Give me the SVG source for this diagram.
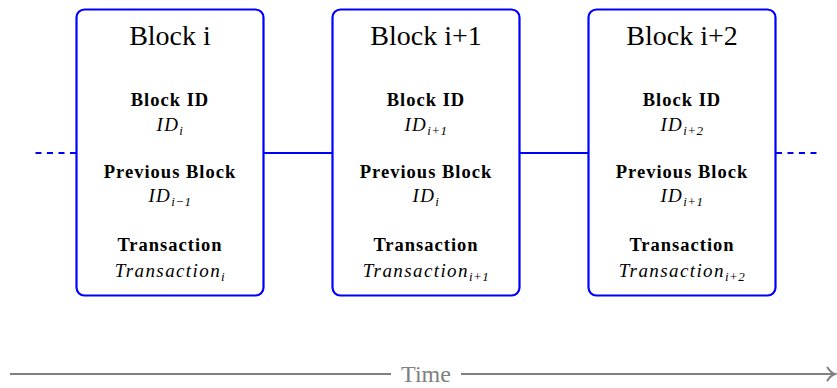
<svg xmlns="http://www.w3.org/2000/svg" width="837" height="388" viewBox="0 0 837 388">
<style>
.box{fill:#fff;stroke:#0000ff;stroke-width:2.2}
.t{font-family:'Liberation Serif','Times New Roman','DejaVu Serif',serif;fill:#000;text-anchor:middle}
.title{font-size:28px}
.lab{font-size:18.5px;font-weight:bold;letter-spacing:1px}
.m{font-size:19px;font-style:italic;letter-spacing:1.4px}
.sub{font-size:13px;letter-spacing:0.5px}
.conn{stroke:#0000ff;stroke-width:2.2;fill:none}
.dash{stroke-dasharray:6 5.5}
.time{stroke:#808080;stroke-width:2;fill:none}
</style>
<g id="connectors">
<line class="conn dash" x1="76" y1="153" x2="30" y2="153"/>
<line class="conn" x1="263.5" y1="153" x2="332.5" y2="153"/>
<line class="conn" x1="519.5" y1="153" x2="588.5" y2="153"/>
<line class="conn dash" x1="776" y1="153" x2="822" y2="153"/>
</g>
<g id="block-i">
<rect class="box" x="76.5" y="9.5" width="187" height="286" rx="8"/>
<text class="t title" x="170" y="45">Block i</text>
<text class="t lab" x="170" y="106">Block ID</text>
<text class="t m" x="170" y="131">ID<tspan class="sub" dy="4">i</tspan></text>
<text class="t lab" x="170" y="178">Previous Block</text>
<text class="t m" x="170" y="202">ID<tspan class="sub" dy="4">i−1</tspan></text>
<text class="t lab" x="170" y="251">Transaction</text>
<text class="t m" x="170" y="277">Transaction<tspan class="sub" dy="4">i</tspan></text>
</g>
<g id="block-i1">
<rect class="box" x="332.5" y="9.5" width="187" height="286" rx="8"/>
<text class="t title" x="426" y="45">Block i+1</text>
<text class="t lab" x="426" y="106">Block ID</text>
<text class="t m" x="426" y="131">ID<tspan class="sub" dy="4">i+1</tspan></text>
<text class="t lab" x="426" y="178">Previous Block</text>
<text class="t m" x="426" y="202">ID<tspan class="sub" dy="4">i</tspan></text>
<text class="t lab" x="426" y="251">Transaction</text>
<text class="t m" x="426" y="277">Transaction<tspan class="sub" dy="4">i+1</tspan></text>
</g>
<g id="block-i2">
<rect class="box" x="588.5" y="9.5" width="187" height="286" rx="8"/>
<text class="t title" x="682" y="45">Block i+2</text>
<text class="t lab" x="682" y="106">Block ID</text>
<text class="t m" x="682" y="131">ID<tspan class="sub" dy="4">i+2</tspan></text>
<text class="t lab" x="682" y="178">Previous Block</text>
<text class="t m" x="682" y="202">ID<tspan class="sub" dy="4">i+1</tspan></text>
<text class="t lab" x="682" y="251">Transaction</text>
<text class="t m" x="682" y="277">Transaction<tspan class="sub" dy="4">i+2</tspan></text>
</g>
<g id="time">
<line class="time" x1="10" y1="374" x2="391" y2="374"/>
<line class="time" x1="461" y1="374" x2="834" y2="374"/>
<path class="time" stroke-linecap="round" d="M827.5,367.5 Q830.5,372.5 835,374 Q830.5,375.5 827.5,380.5"/>
<text class="t" x="426" y="382" style="font-size:24px;fill:#808080">Time</text>
</g>
</svg>
